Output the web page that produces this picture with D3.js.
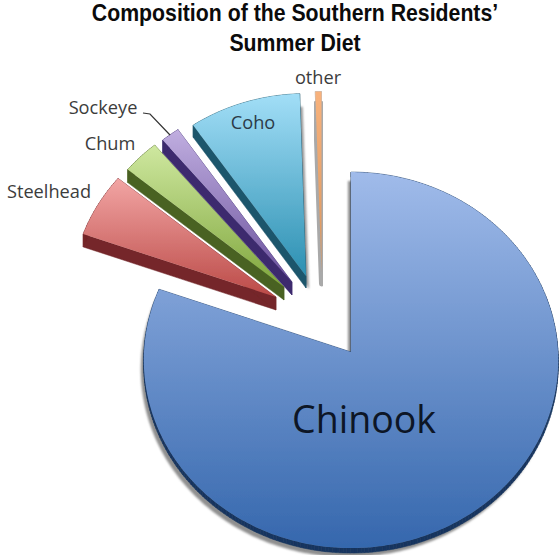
<!DOCTYPE html>
<html>
<head>
<meta charset="utf-8">
<script src="https://cdn.jsdelivr.net/npm/d3@7"></script>
<style>
html,body{margin:0;padding:0;background:#fff;}
svg{display:block;}
</style>
</head>
<body>
<svg id="chart" width="559" height="555"></svg>
<script>
// Diet share by species, in percent, clockwise from twelve o'clock
const species = ["Chinook", "Steelhead", "Chum", "Sockeye", "Coho", "other"];
const shares = [80.5, 5.5, 3, 1.5, 9, 0.5];
const titleLines = ["Composition of the Southern Residents\u2019", "Summer Diet"];

// Tilted-disc geometry: the pie is a unit circle projected on to the page
const hub = {x: 351, y: 352};
const radiusX = 207, radiusY = 188, foreshorten = 0.043;

// How far each wedge is pulled away from the hub, in pixels, and its radius factor
const explode = [[0,0],[-75,-55],[-67,-65],[-59,-70],[-45,-76],[-29.5,-80]];
const radiusFactor = [1, 0.99, 0.98, 0.98, 0.97, 0.96];
const sideDepth = [5, 13, 13, 13, 12, 0];

const topColors = ["#a0bbea","#f2a5a4","#cfe8a0","#c0aee0","#a2def7","#f8b27c"];
const bottomColors = ["#3567ad","#bb4a47","#7fa63c","#6a519c","#2c90b2","#d9955c"];
const sideColors = ["#16355f","#74272a","#4a6223","#3c2b6e","#1e566c","#a9a9a9"];

const svg = d3.select("#chart");
const defs = svg.append("defs");
defs.append("filter").attr("id","soft").append("feGaussianBlur").attr("stdDeviation",1);
defs.append("filter").attr("id","softer").append("feGaussianBlur").attr("stdDeviation",0.6);

const xScale = d3.scaleLinear().domain([-1,1]).range([hub.x-radiusX, hub.x+radiusX]);
const yScale = d3.scaleLinear().domain([-1,1]).range([hub.y-radiusY, hub.y+radiusY]);

// Project a polar position on the disc; only the main slice gets foreshortened
function project(angle, r, k){
  const u = r*Math.sin(angle), v = -r*Math.cos(angle), s = 1 + k*v;
  return [xScale(u*s), yScale(v*s)];
}
function outline(d, i){
  const k = i === 0 ? foreshorten : 0;
  const steps = Math.max(2, Math.ceil((d.endAngle-d.startAngle)*60));
  const rim = d3.range(steps+1).map(j => project(d.startAngle+(d.endAngle-d.startAngle)*j/steps, radiusFactor[i], k));
  return [project(0,0,k), ...rim];
}
const wedge = d3.line().curve(d3.curveLinear);
const wedgePath = (d,i) => wedge(outline(d,i)) + "Z";

// Sweep the outline straight down: one quad per outline segment forms the solid wall
function wallQuads(d, i){
  const pts = outline(d,i), depth = sideDepth[i];
  return pts.map((p,j) => {
    const q = pts[(j+1)%pts.length];
    return wedge([p, q, [q[0],q[1]+depth], [p[0],p[1]+depth]]) + "Z";
  });
}

const arcs = d3.pie().sort(null).value(d => d)(shares);

arcs.forEach((d,i) => {
  const g = defs.append("linearGradient").attr("id","face"+i).attr("x1",0).attr("y1",0).attr("x2",0).attr("y2",1);
  g.append("stop").attr("offset",0).attr("stop-color",topColors[i]);
  g.append("stop").attr("offset",1).attr("stop-color",bottomColors[i]);
});

const slices = svg.selectAll("g.slice").data(arcs).join("g")
  .attr("class","slice")
  .attr("transform",(d,i)=>`translate(${explode[i][0]},${explode[i][1]})`);

// Soft grey shadows along the near-vertical edges
slices.filter((d,i)=>i===0).append("path")
  .attr("d",d=>wedgePath(d,0)).attr("fill","#8f8f8f").attr("filter","url(#soft)")
  .attr("transform","translate(-3,9)");
slices.filter((d,i)=>i===4).append("path")
  .attr("d",d=>wedgePath(d,4)).attr("fill","#9a9a9a").attr("filter","url(#soft)")
  .attr("transform","translate(3,13)");
slices.filter((d,i)=>i===5).append("path")
  .attr("d",d=>wedgePath(d,5)).attr("fill","#a9a9a9").attr("stroke","#a9a9a9")
  .attr("stroke-width",5).attr("stroke-linejoin","round").attr("filter","url(#softer)")
  .attr("transform","translate(0,12)");

// Extruded wall beneath each face
slices.each(function(d,i){
  d3.select(this).append("g")
    .attr("filter","url(#softer)")
    .selectAll("path").data(wallQuads(d,i)).join("path")
    .attr("d",q=>q)
    .attr("fill",sideColors[i])
    .attr("stroke",sideColors[i])
    .attr("stroke-width",0.5);
});

// Top faces
slices.append("path")
  .attr("d",wedgePath)
  .attr("fill",(d,i)=>`url(#face${i})`)
  .attr("filter","url(#softer)");

// Title, condensed horizontally
svg.append("g").selectAll("text").data(titleLines).join("text")
  .attr("transform",(d,i)=>`translate(295,${21+i*30}) scale(0.925,1)`)
  .attr("text-anchor","middle")
  .attr("font-family","'Liberation Sans',sans-serif")
  .attr("font-weight",700).attr("font-size",23).attr("fill","#0b0b0b")
  .text(d=>d);

// Species labels
const labelAt = {
  Chinook:{x:364,y:433,size:37.5,color:"#0d1626"},
  Steelhead:{x:49,y:198,size:18.2,color:"#3c3c3c"},
  Chum:{x:110,y:150,size:18.2,color:"#3c3c3c"},
  Sockeye:{x:103,y:114,size:18.2,color:"#3c3c3c"},
  Coho:{x:253,y:129,size:18.2,color:"#2b3a48"},
  other:{x:318,y:84,size:18.2,color:"#3c3c3c"}
};
svg.append("g").selectAll("text").data(species).join("text")
  .attr("x",d=>labelAt[d].x).attr("y",d=>labelAt[d].y)
  .attr("text-anchor","middle")
  .attr("font-family","'Open Sans',sans-serif")
  .attr("font-size",d=>labelAt[d].size)
  .attr("fill",d=>labelAt[d].color)
  .text(d=>d);

// Leader from the Sockeye label to its wedge
svg.append("path")
  .attr("d",d3.line()([[143,113],[150,114],[170,135]]))
  .attr("fill","none").attr("stroke","#333").attr("stroke-width",1.2);
</script>
</body>
</html>
